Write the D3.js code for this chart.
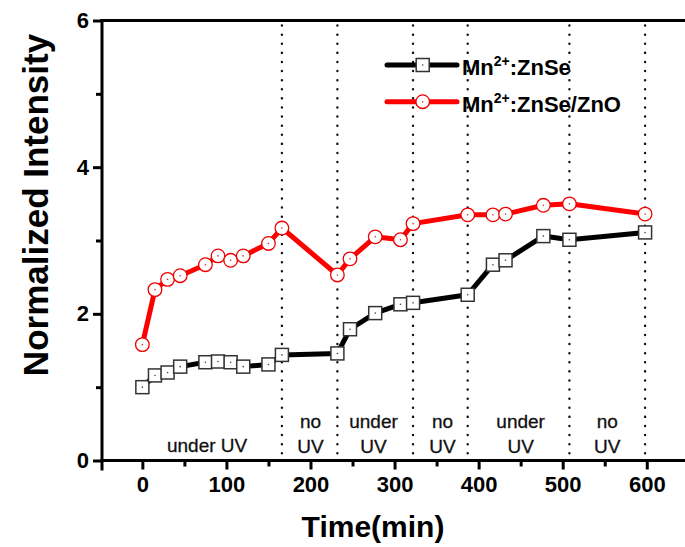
<!DOCTYPE html>
<html lang="en">
<head>
<meta charset="UTF-8">
<title>Normalized Intensity vs Time</title>
<script src="https://d3js.org/d3.v7.min.js"></script>
<style>
    body { margin: 0; background: #fff; }
    svg { font-family: "Liberation Sans", Arial, sans-serif; }
    .axis path, .axis line { stroke: #000; stroke-width: 3; }
    .axis text { font-size: 22px; font-weight: bold; fill: #000; }
    .note { font-size: 19px; fill: #111; text-anchor: middle; stroke: #111; stroke-width: 0.3; }
</style>
</head>
<body>
<svg width="685" height="547"></svg>
<script>
// time (min) of each measurement
const times = [0, 15, 30, 45, 75, 90, 105, 120, 150, 166, 232, 247, 277, 307, 322, 387, 417, 432, 477, 508, 598];
const znse = [1.00, 1.16, 1.20, 1.28, 1.34, 1.35, 1.34, 1.28, 1.31, 1.44, 1.46, 1.79, 2.01, 2.13, 2.15, 2.26, 2.67, 2.73, 3.06, 3.01, 3.11];
const znseZno = [1.58, 2.33, 2.47, 2.52, 2.67, 2.79, 2.73, 2.79, 2.96, 3.17, 2.53, 2.75, 3.05, 3.01, 3.23, 3.35, 3.35, 3.36, 3.48, 3.50, 3.36];

// UV switching times (dotted lines)
const switches = [166, 232, 322, 387, 508, 598];
// interval labels: centre time, lines
const noteTimes = [77, 200, 275, 357, 450, 553];
const noteLines = [["under UV"], ["no", "UV"], ["under", "UV"], ["no", "UV"], ["under", "UV"], ["no", "UV"]];

const xMajor = [0, 100, 200, 300, 400, 500, 600];
const xMinor = [50, 150, 250, 350, 450, 550];
const yMajor = [0, 2, 4, 6];
const yMinor = [1, 3, 5];

const svg = d3.select("svg");

const x = d3.scaleLinear().domain([-48, 650]).range([102, 688.8]);
const y = d3.scaleLinear().domain([0, 6]).range([460.5, 20.5]);

// dotted separators
svg.selectAll(".sep")
    .data(switches)
    .enter().append("line")
    .attr("x1", d => x(d)).attr("x2", d => x(d))
    .attr("y1", y(6) + 5).attr("y2", y(0))
    .attr("stroke", "#111")
    .attr("stroke-width", 2.4)
    .attr("stroke-linecap", "round")
    .attr("stroke-dasharray", "0.1 9");

// interval labels
noteTimes.forEach((t, i) => {
    const lines = noteLines[i];
    const txt = svg.append("text").attr("class", "note");
    lines.forEach((s, j) => {
        txt.append("tspan")
            .attr("x", x(t))
            .attr("y", lines.length === 1 ? 452 : 428 + j * 24.5)
            .text(s);
    });
});

// axes
svg.append("g").attr("class", "axis")
    .attr("transform", `translate(0,${y(0)})`)
    .call(d3.axisBottom(x).tickValues(xMinor).tickSize(6).tickFormat(""))
    .select(".domain").remove();
svg.append("g").attr("class", "axis")
    .attr("transform", `translate(0,${y(0)})`)
    .call(d3.axisBottom(x).tickValues(xMajor).tickSizeOuter(0).tickSize(9).tickPadding(7))
    .call(g => g.select(".domain").attr("d", `M${x(-48) - 1.5},0H${685}`));

svg.append("g").attr("class", "axis")
    .attr("transform", `translate(${x(-48)},0)`)
    .call(d3.axisLeft(y).tickValues(yMinor).tickSize(6).tickFormat(""))
    .select(".domain").remove();
svg.append("g").attr("class", "axis")
    .attr("transform", `translate(${x(-48)},0)`)
    .call(d3.axisLeft(y).tickValues(yMajor).tickFormat(d3.format("d")).tickSizeOuter(0).tickSize(9).tickPadding(4))
    .call(g => g.select(".domain").attr("d", `M0,${y(0) + 10}V${y(6) - 1.5}`));

// top frame
svg.append("g").attr("class", "axis")
    .attr("transform", `translate(0,${y(6)})`)
    .call(d3.axisTop(x).tickValues([]).tickSizeOuter(0))
    .call(g => g.select(".domain").attr("d", `M${x(-48) - 1.5},0H${685}`));

// series
const line = d3.line().x((d, i) => x(times[i])).y(d => y(d));

svg.append("path").datum(znse)
    .attr("d", line).attr("fill", "none")
    .attr("stroke", "#000").attr("stroke-width", 5).attr("stroke-linejoin", "round");
svg.append("path").datum(znseZno)
    .attr("d", line).attr("fill", "none")
    .attr("stroke", "#f00").attr("stroke-width", 5).attr("stroke-linejoin", "round");

function square(g, cx, cy) {
    g.append("rect").attr("x", cx - 6.5).attr("y", cy - 6.5).attr("width", 13).attr("height", 13)
        .attr("fill", "#fff").attr("stroke", "#333").attr("stroke-width", 1.5);
    g.append("circle").attr("cx", cx).attr("cy", cy).attr("r", 0.8).attr("fill", "#444");
}
function ring(g, cx, cy) {
    g.append("circle").attr("cx", cx).attr("cy", cy).attr("r", 6.8)
        .attr("fill", "#fff").attr("stroke", "#e00").attr("stroke-width", 1.3);
    g.append("circle").attr("cx", cx).attr("cy", cy).attr("r", 0.8).attr("fill", "#c33");
}

const mk = svg.append("g");
znse.forEach((v, i) => square(mk, x(times[i]), y(v)));
znseZno.forEach((v, i) => ring(mk, x(times[i]), y(v)));

// legend
const legend = [
    { name: ":ZnSe", color: "#000", draw: square },
    { name: ":ZnSe/ZnO", color: "#f00", draw: ring }
];
legend.forEach((d, i) => {
    const ly = 65 + i * 36.7;
    svg.append("line").attr("x1", 387).attr("x2", 457).attr("y1", ly).attr("y2", ly)
        .attr("stroke", d.color).attr("stroke-width", 5).attr("stroke-linecap", "round");
    d.draw(svg, 422.7, ly);
    const t = svg.append("text").attr("x", 462).attr("y", ly + 10)
        .style("font-size", "22px").style("font-weight", "bold");
    t.append("tspan").text("Mn");
    t.append("tspan").attr("dy", -9).style("font-size", "14px").text("2+");
    t.append("tspan").attr("dy", 9).text(d.name);
});

// axis titles
svg.append("text")
    .attr("transform", `translate(48,205) rotate(-90)`)
    .style("text-anchor", "middle").style("font-size", "35px").style("font-weight", "bold")
    .text("Normalized Intensity");
svg.append("text")
    .attr("x", 373).attr("y", 537)
    .style("text-anchor", "middle").style("font-size", "30px").style("font-weight", "bold")
    .text("Time(min)");
</script>
</body>
</html>
